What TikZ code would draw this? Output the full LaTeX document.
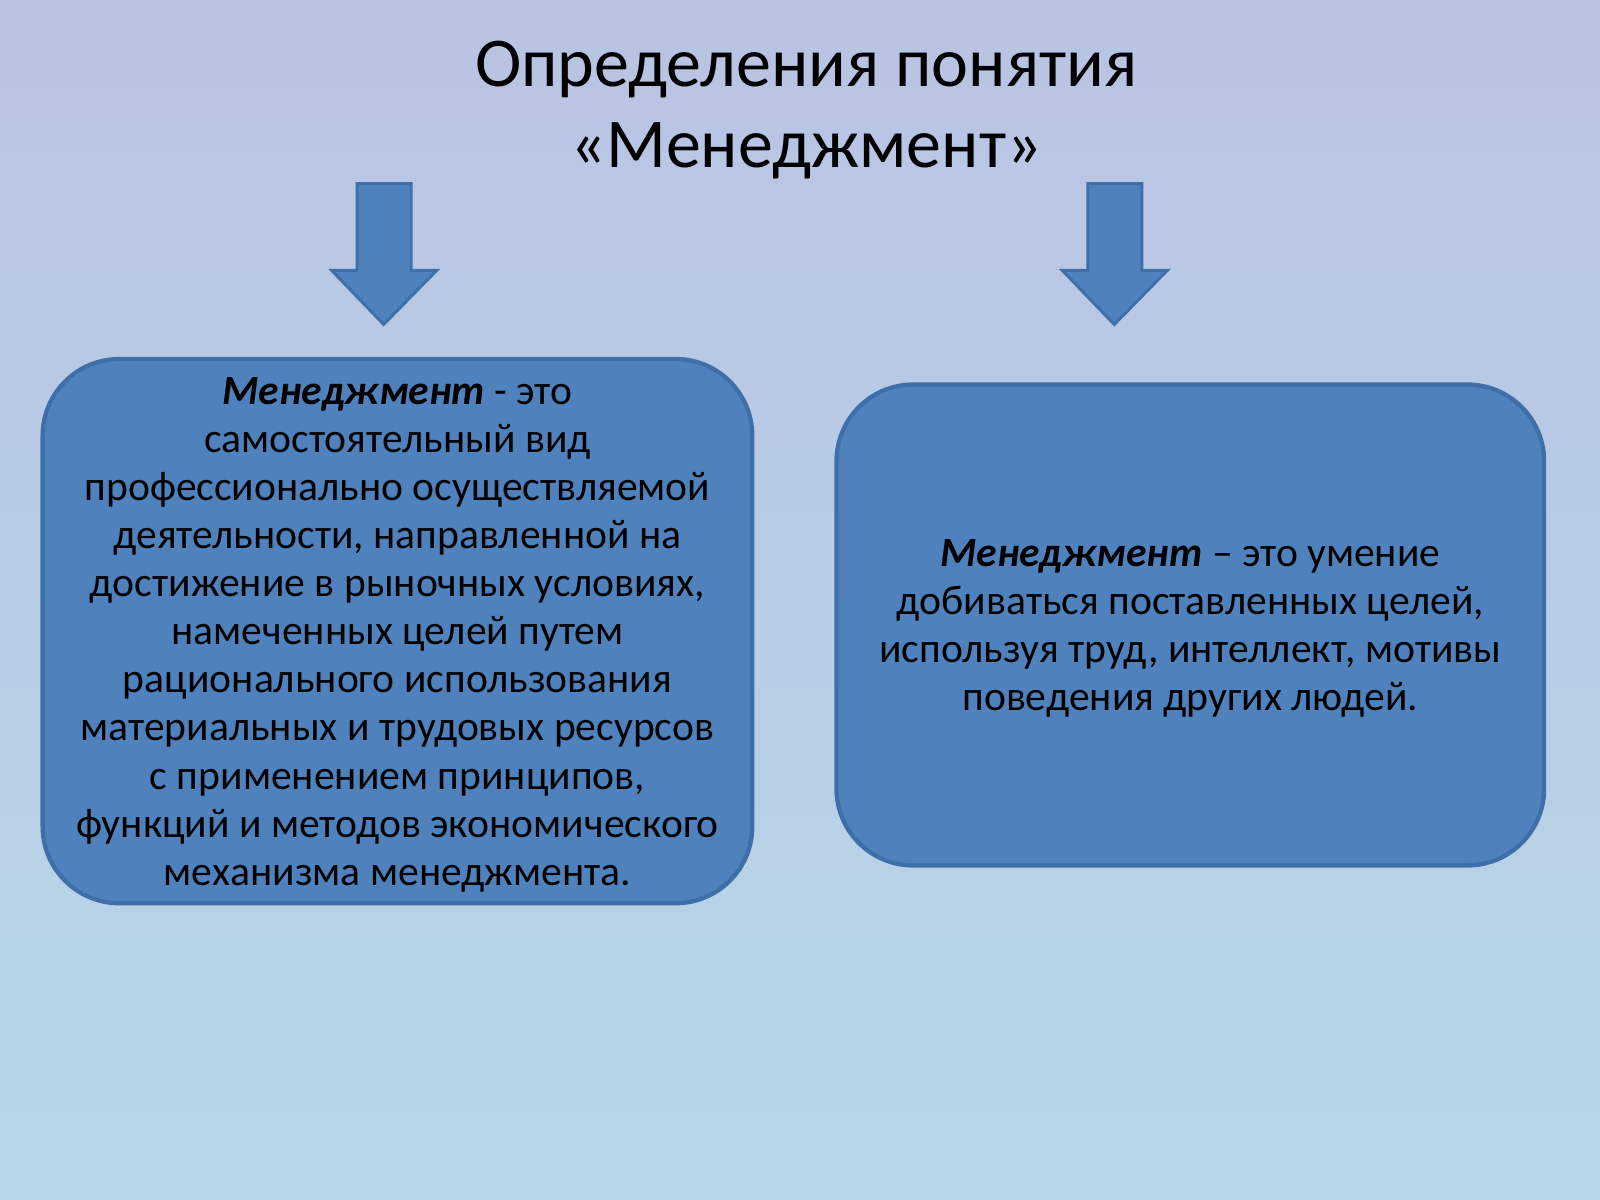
\documentclass[tikz,border=0pt]{standalone}
\usepackage{fontspec}
\setmainfont{Carlito}
\usetikzlibrary{positioning}

\definecolor{boxfill}{HTML}{4F81BD}
\definecolor{boxline}{HTML}{3F6FA8}
\definecolor{bgtop}{HTML}{B9C3E3}
\definecolor{bgbot}{HTML}{B7D7E8}

\begin{document}
\begin{tikzpicture}[x=0.01cm,y=-0.01cm]
        \tikzstyle{defbox}=[draw=boxline, line width=1.2pt, fill=boxfill, rounded corners=0.75cm, align=center, inner sep=0pt, font=\fontsize{11.6pt}{13.4pt}\selectfont]
        \tikzstyle{blockarrow}=[draw=boxline, line width=0.8pt, fill=boxfill]

        % Background
        \shade[top color=bgtop, bottom color=bgbot] (0,0) rectangle (1568,1176);
        \useasboundingbox (0,0) rectangle (1568,1176);

        % Title
        \node[align=center, font=\fontsize{19.5pt}{22.5pt}\selectfont] (title) at (790,108)
            {Определения понятия\\ «Менеджмент»\hspace{4.2em}};

        % Arrows
        \foreach \name / \x in {L/376, R/1092}
            \draw[blockarrow] (\x-26,180) -- (\x+27,180) -- (\x+27,265) -- (\x+52,265)
                -- (\x,318) -- (\x-51,265) -- (\x-26,265) -- cycle;

        % Definition boxes
        \node[defbox, minimum width=6.95cm, minimum height=5.33cm] (def-L) at (389.5,618.5) {};
        \node[defbox, minimum width=6.93cm, minimum height=4.71cm] (def-R) at (1166.5,612.5) {};

        \node[align=center, font=\fontsize{11.6pt}{13.4pt}\selectfont] (txt-L) at (389.5,622)
            {\textbf{\textit{Менеджмент}} - это\\ самостоятельный вид\\ профессионально осуществляемой\\
             деятельности, направленной на\\ достижение в рыночных условиях,\\ намеченных целей путем\\
             рационального использования\\ материальных и трудовых ресурсов\\ с применением принципов,\\
             функций и методов экономического\\ механизма менеджмента.};
        \node[align=center, font=\fontsize{11.6pt}{13.4pt}\selectfont] (txt-R) at (1166.5,616)
            {\textbf{\textit{Менеджмент}} – это умение\\ добиваться поставленных целей,\\
             используя труд, интеллект, мотивы\\ поведения других людей.};
\end{tikzpicture}
\end{document}
